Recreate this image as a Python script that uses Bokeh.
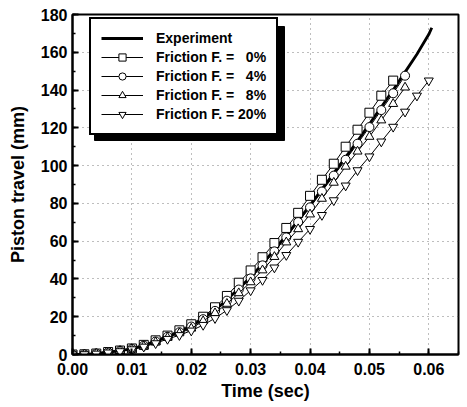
from bokeh.plotting import figure
from bokeh.models import (Range1d, SingleIntervalTicker, PrintfTickFormatter,
                          Legend, LegendItem)
from bokeh.embed import file_html
from bokeh.resources import INLINE

# ---- data ----
t_exp = [0.000, 0.002, 0.004, 0.006, 0.008, 0.010, 0.012, 0.014, 0.016, 0.018,
         0.020, 0.022, 0.024, 0.026, 0.028, 0.030, 0.032, 0.034, 0.036, 0.038,
         0.040, 0.042, 0.044, 0.046, 0.048, 0.050, 0.052, 0.054, 0.056, 0.058,
         0.060, 0.0605]
y_exp = [0, 0.1, 0.5, 1.2, 2, 3, 4.8, 7, 9.5, 12,
         15, 19, 23.5, 29, 35, 41, 48, 55.5, 63, 71,
         79, 87.5, 96, 104.5, 113, 122, 131, 140, 149.5, 159,
         169.5, 173]

t_f0 = [0.000, 0.002, 0.004, 0.006, 0.008, 0.010, 0.012, 0.014, 0.016, 0.018,
        0.020, 0.022, 0.024, 0.026, 0.028, 0.030, 0.032, 0.034, 0.036, 0.038,
        0.040, 0.042, 0.044, 0.046, 0.048, 0.050, 0.052, 0.054]
y_f0 = [0, 0.1, 0.5, 1.3, 2.1, 3.2, 5.1, 7.5, 10, 12.8,
        16, 20, 25, 31, 38, 44.5, 51.5, 59, 67, 75,
        84, 92.5, 101, 110, 119, 128, 137, 145]

t_f4 = [0.000, 0.002, 0.004, 0.006, 0.008, 0.010, 0.012, 0.014, 0.016, 0.018,
        0.020, 0.022, 0.024, 0.026, 0.028, 0.030, 0.032, 0.034, 0.036, 0.038,
        0.040, 0.042, 0.044, 0.046, 0.048, 0.050, 0.052, 0.054, 0.056]
y_f4 = [0, 0.1, 0.5, 1.2, 2, 3, 4.7, 6.9, 9.4, 11.8,
        14.8, 18.7, 23.1, 28.5, 34.4, 40.3, 47.2, 54.6, 62, 70.1,
        77.9, 86.3, 94.7, 103.1, 111.6, 120.4, 129.4, 138.3, 147.6]

t_f8 = [0.000, 0.002, 0.004, 0.006, 0.008, 0.010, 0.012, 0.014, 0.016, 0.018,
        0.020, 0.022, 0.024, 0.026, 0.028, 0.030, 0.032, 0.034, 0.036, 0.038,
        0.040, 0.042, 0.044, 0.046, 0.048, 0.050, 0.052, 0.054, 0.056]
y_f8 = [0, 0.1, 0.5, 1.1, 1.9, 2.8, 4.4, 6.5, 8.9, 11.3,
        13.8, 17.7, 21.9, 26.9, 32.5, 38.3, 44.6, 51.7, 59.4, 66.4,
        74.2, 82.5, 91, 99.5, 107.5, 115.3, 124, 132.7, 141.4]

t_f20 = [0.000, 0.002, 0.004, 0.006, 0.008, 0.010, 0.012, 0.014, 0.016, 0.018,
         0.020, 0.022, 0.024, 0.026, 0.028, 0.030, 0.032, 0.034, 0.036, 0.038,
         0.040, 0.042, 0.044, 0.046, 0.048, 0.050, 0.052, 0.054, 0.056, 0.058,
         0.060]
y_f20 = [0, 0.1, 0.4, 1.0, 1.7, 2.7, 4.1, 5.9, 8.2, 10.2,
         12.6, 15.6, 19.2, 23.4, 28.4, 33.9, 39.4, 46, 52.6, 59.6,
         66.4, 73.8, 81.6, 89.4, 97.5, 104.8, 112.7, 120.5, 128.5, 137,
         145]

labels = ["Experiment", "Friction F. =\u00a0\u00a0 0%", "Friction F. =\u00a0\u00a0 4%",
          "Friction F. =\u00a0\u00a0 8%", "Friction F. = 20%"]

FONT = "Liberation Sans"
X0, X1, Y0, Y1 = 0.0, 0.065, 0.0, 180.0
FW, FH = 386, 340

p = figure(frame_width=FW, frame_height=FH, output_backend="svg",
           toolbar_location=None, x_range=Range1d(X0, X1), y_range=Range1d(Y0, Y1),
           min_border_left=72, min_border_top=14, min_border_right=2, min_border_bottom=6)
p.background_fill_color = "white"
p.outline_line_color = "black"
p.outline_line_width = 2

# axes
p.xaxis.ticker = SingleIntervalTicker(interval=0.01, num_minor_ticks=2)
p.yaxis.ticker = SingleIntervalTicker(interval=20, num_minor_ticks=2)
p.xaxis.formatter = PrintfTickFormatter(format="%.2f")
for ax in (p.xaxis[0], p.yaxis[0]):
    ax.axis_line_width = 2
    ax.axis_line_color = "black"
    ax.major_tick_in = 6
    ax.major_tick_out = 0
    ax.minor_tick_in = 3
    ax.minor_tick_out = 0
    ax.major_tick_line_width = 2
    ax.minor_tick_line_width = 1.5
    ax.major_label_text_font = FONT
    ax.major_label_text_font_style = "bold"
    ax.major_label_text_font_size = "16px"
    ax.major_label_text_color = "black"
    ax.axis_label_text_font = FONT
    ax.axis_label_text_font_style = "bold"
    ax.axis_label_text_font_size = "18px"
    ax.axis_label_text_color = "black"
p.xaxis.axis_label = "Time (sec)"
p.yaxis.axis_label = "Piston travel (mm)"
p.xaxis.major_label_standoff = 8
p.xaxis.axis_label_standoff = 3
p.yaxis.major_label_standoff = 5
p.yaxis.axis_label_standoff = 10

for g in (p.xgrid[0], p.ygrid[0]):
    g.grid_line_color = "#444444"
    g.grid_line_dash = "1 4"
    g.grid_line_alpha = 0.7

# legend geometry (screen px inside the frame)
LEG_LEFT, LEG_TOP, LEG_W, LEG_H, SHADOW = 17, 7, 190, 114, 5
# legend drop shadow (decoration; corners derived from the legend geometry)
sh_left = X0 + (LEG_LEFT + SHADOW) * (X1 - X0) / FW
sh_right = X0 + (LEG_LEFT + LEG_W + SHADOW) * (X1 - X0) / FW
sh_top = Y1 - (LEG_TOP + SHADOW) * (Y1 - Y0) / FH
sh_bottom = Y1 - (LEG_TOP + LEG_H + SHADOW) * (Y1 - Y0) / FH
p.quad(left=[sh_left], right=[sh_right], top=[sh_top], bottom=[sh_bottom],
       fill_color="black", line_color="black", fill_alpha=1.0)

# series
r_exp = p.line(t_exp, y_exp, line_color="black", line_width=2.8)
series = [(t_f0, y_f0, "square"), (t_f4, y_f4, "circle"),
          (t_f8, y_f8, "triangle"), (t_f20, y_f20, "inverted_triangle")]
items = [LegendItem(label=labels[0], renderers=[r_exp])]
for (tt, yy, mk), lab in zip(series, labels[1:]):
    rl = p.line(tt, yy, line_color="black", line_width=1)
    rs = p.scatter(tt, yy, marker=mk, size=9, fill_color="white",
                   line_color="black", line_width=1)
    items.append(LegendItem(label=lab, renderers=[rl, rs]))

leg = Legend(items=items, location=(LEG_LEFT, FH - LEG_TOP - LEG_H), padding=10, spacing=1,
             label_height=18, glyph_height=18, glyph_width=42, label_standoff=13,
             label_text_font=FONT, label_text_font_style="bold",
             label_text_font_size="14px", label_text_color="black",
             border_line_color="black", border_line_width=2, border_line_alpha=1.0,
             background_fill_color="white", background_fill_alpha=1.0,
             margin=0)
p.add_layout(leg, "center")

open("out.html", "w").write(file_html(p, INLINE))
